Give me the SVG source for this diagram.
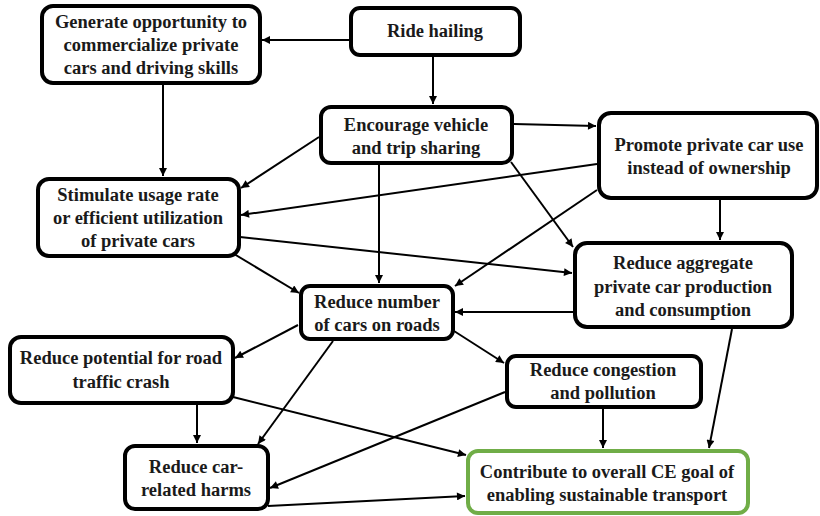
<svg xmlns="http://www.w3.org/2000/svg" width="820" height="516" viewBox="0 0 820 516">
  <defs>
    <marker id="arrow" viewBox="0 0 10 10" refX="10" refY="5" markerUnits="userSpaceOnUse" markerWidth="9" markerHeight="8" orient="auto">
      <path d="M0,0 L10,5 L0,10 z" fill="#000"/>
    </marker>
    <style>
      .box { fill: #fff; stroke: #000; stroke-width: 4; }
      .goal { fill: #fff; stroke: #70ad47; stroke-width: 4; }
      .lbl { font-family: "Liberation Serif", "Times New Roman", serif; font-weight: bold; font-size: 18.5px; fill: #1a1a1a; text-anchor: middle; }
      .edge { stroke: #000; stroke-width: 2; fill: none; marker-end: url(#arrow); }
    </style>
  </defs>
  <rect width="820" height="516" fill="#fff"/>

  <g id="connectors">
    <line class="edge" x1="350" y1="40" x2="262" y2="40"/>
    <line class="edge" x1="433" y1="56" x2="433" y2="104"/>
    <line class="edge" x1="163" y1="84" x2="163" y2="176"/>
    <line class="edge" x1="319" y1="137" x2="241" y2="188"/>
    <line class="edge" x1="514" y1="124" x2="596" y2="126"/>
    <line class="edge" x1="597" y1="164" x2="241" y2="215"/>
    <line class="edge" x1="379" y1="164" x2="379" y2="283"/>
    <line class="edge" x1="511" y1="162" x2="573" y2="247"/>
    <line class="edge" x1="597" y1="190" x2="455" y2="286"/>
    <line class="edge" x1="720" y1="199" x2="720" y2="240"/>
    <line class="edge" x1="240" y1="237" x2="572" y2="273"/>
    <line class="edge" x1="234" y1="254" x2="299" y2="293"/>
    <line class="edge" x1="573" y1="312" x2="455" y2="312"/>
    <line class="edge" x1="298" y1="325" x2="235" y2="358"/>
    <line class="edge" x1="454" y1="331" x2="504" y2="363"/>
    <line class="edge" x1="333" y1="341" x2="258" y2="444"/>
    <line class="edge" x1="197" y1="404" x2="197" y2="443"/>
    <line class="edge" x1="233" y1="397" x2="466" y2="455"/>
    <line class="edge" x1="505" y1="392" x2="270" y2="488"/>
    <line class="edge" x1="603" y1="408" x2="603" y2="448"/>
    <line class="edge" x1="732" y1="329" x2="709" y2="448"/>
    <line class="edge" x1="268" y1="506" x2="465" y2="496"/>
  </g>

  <g id="generate">
    <rect class="box" x="42" y="6" width="218" height="77" rx="11"/>
    <text class="lbl" x="151" y="28">Generate opportunity to</text>
    <text class="lbl" x="151" y="51">commercialize private</text>
    <text class="lbl" x="151" y="74">cars and driving skills</text>
  </g>

  <g id="ride-hailing">
    <rect class="box" x="351" y="8" width="169" height="47" rx="9"/>
    <text class="lbl" x="435" y="37">Ride hailing</text>
  </g>

  <g id="encourage">
    <rect class="box" x="321" y="107" width="191" height="56" rx="10"/>
    <text class="lbl" x="416" y="131">Encourage vehicle</text>
    <text class="lbl" x="416" y="154">and trip sharing</text>
  </g>

  <g id="promote">
    <rect class="box" x="599" y="113" width="218" height="85" rx="12"/>
    <text class="lbl" x="709" y="151">Promote private car use</text>
    <text class="lbl" x="709" y="174">instead of ownership</text>
  </g>

  <g id="stimulate">
    <rect class="box" x="38" y="179" width="201" height="77" rx="11"/>
    <text class="lbl" x="138" y="201">Stimulate usage rate</text>
    <text class="lbl" x="138" y="224">or efficient utilization</text>
    <text class="lbl" x="138" y="247">of private cars</text>
  </g>

  <g id="reduce-aggregate">
    <rect class="box" x="575" y="243" width="217" height="84" rx="12"/>
    <text class="lbl" x="683" y="269">Reduce aggregate</text>
    <text class="lbl" x="683" y="293">private car production</text>
    <text class="lbl" x="683" y="316">and consumption</text>
  </g>

  <g id="reduce-number">
    <rect class="box" x="301" y="286" width="152" height="53" rx="9"/>
    <text class="lbl" x="377" y="308">Reduce number</text>
    <text class="lbl" x="377" y="331">of cars on roads</text>
  </g>

  <g id="reduce-crash">
    <rect class="box" x="10" y="337" width="223" height="66" rx="11"/>
    <text class="lbl" x="121" y="364">Reduce potential for road</text>
    <text class="lbl" x="121" y="388">traffic crash</text>
  </g>

  <g id="reduce-congestion">
    <rect class="box" x="507" y="356" width="194" height="51" rx="9"/>
    <text class="lbl" x="603" y="376">Reduce congestion</text>
    <text class="lbl" x="603" y="399">and pollution</text>
  </g>

  <g id="reduce-harms">
    <rect class="box" x="125" y="446" width="143" height="63" rx="10"/>
    <text class="lbl" x="196" y="473">Reduce car-</text>
    <text class="lbl" x="196" y="496">related harms</text>
  </g>

  <g id="contribute">
    <rect class="goal" x="468" y="451" width="280" height="62" rx="10"/>
    <text class="lbl" x="607" y="478">Contribute to overall CE goal of</text>
    <text class="lbl" x="607" y="501">enabling sustainable transport</text>
  </g>
</svg>
